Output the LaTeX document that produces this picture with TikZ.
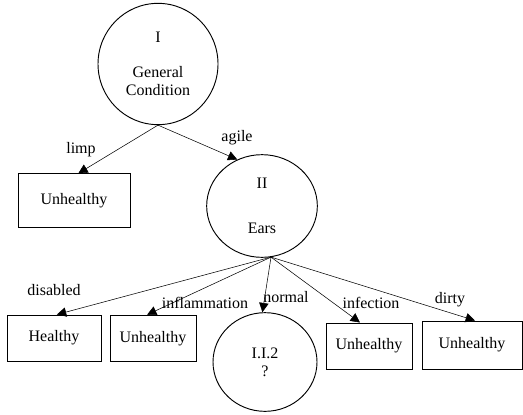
\documentclass[tikz,border=0pt]{standalone}
\usepackage{fontspec}
\setmainfont{Liberation Serif}
\usetikzlibrary{shapes.geometric,arrows.meta}

\begin{document}
\begin{tikzpicture}[x=0.75pt,y=-0.75pt,
  font=\fontsize{12}{13.5}\selectfont,
  circ/.style={draw,line width=0.7pt,ellipse,inner sep=0pt,align=center},
  box/.style={draw,line width=0.7pt,rectangle,inner sep=0pt},
  edge/.style={line width=0.4pt,-{Triangle[length=7pt,width=7pt]}},
  lbl/.style={inner sep=0pt}]
\useasboundingbox (0,0) rectangle (523,414);

% decision nodes
\node[circ, minimum width=90pt, minimum height=91pt] (gc) at (158,64) {I\\[12.5pt]General\\Condition};
\node[circ, minimum width=83pt, minimum height=77pt] (ears) at (262,206) {II\\[20pt]Ears};
\node[circ, minimum width=78pt, minimum height=74pt] (ii2) at (265,362) {I.I.2\\?};

% leaves
\node[box, minimum width=84pt, minimum height=40pt] (u1) at (74,200.5) {Unhealthy};
\node[box, minimum width=70.5pt, minimum height=34.5pt] (h1) at (54,338) {Healthy};
\node[box, minimum width=64.5pt, minimum height=35pt] (u2) at (153,338.5) {Unhealthy};
\node[box, minimum width=64.5pt, minimum height=34.5pt] (u3) at (369,346) {Unhealthy};
\node[box, minimum width=75pt, minimum height=36pt] (u4) at (472,345) {Unhealthy};

% branches
\draw[edge] (gc.south) -- (u1.81);
\draw[edge] (gc.south) -- (ears.118);
\draw[edge] (ears.-80) -- (h1.83);
\draw[edge] (ears.-80) -- (u2.104);
\draw[edge] (ears.-80) -- (ii2.93);
\draw[edge] (ears.-80) -- (u3.111);
\draw[edge] (ears.-80) -- (u4.83);

% branch labels
\node[lbl] (limp) at (81,150) {limp};
\node[lbl] (agile) at (237,138) {agile};
\node[lbl] (disabled) at (54,290) {disabled};
\node[lbl] (inflam) at (205,303) {inflammation};
\node[lbl] (normal) at (286,297) {normal};
\node[lbl] (infect) at (371,303) {infection};
\node[lbl] (dirty) at (450,300) {dirty};
\end{tikzpicture}
\end{document}
